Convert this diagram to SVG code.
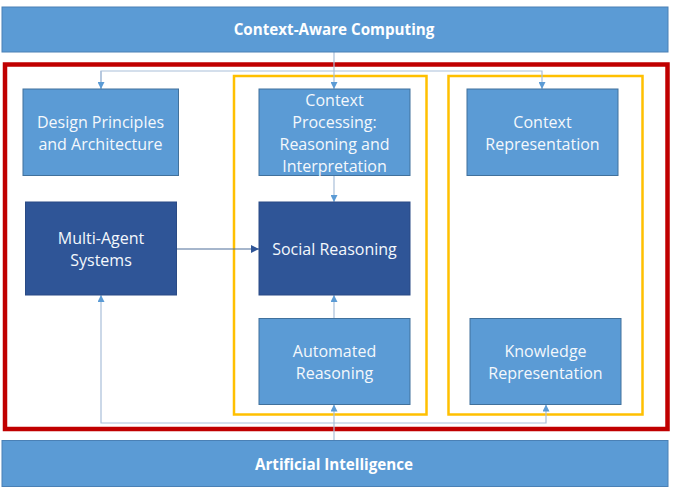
<svg xmlns="http://www.w3.org/2000/svg" width="676" height="489" viewBox="0 0 676 489">
<defs>
<style>
.bar{fill:#5B9BD5;stroke:#4A80B5;stroke-width:1}
.lt{fill:#5B9BD5;stroke:#41719C;stroke-width:1}
.dk{fill:#2F5597;stroke:#2A4B85;stroke-width:1}
.t{font-family:"Open Sans","Noto Sans",sans-serif;font-size:16px;fill:#F4F8FC;text-anchor:middle}
.tb{font-family:"Open Sans","Noto Sans",sans-serif;font-size:15.2px;font-weight:bold;fill:#FFFFFF;text-anchor:middle}
.c{fill:none;stroke:#A9BFD9;stroke-width:1.2}
.cd{fill:none;stroke:#4F6F9A;stroke-width:1.2}
.red{fill:none;stroke:#C00000;stroke-width:4.5}
.yel{fill:none;stroke:#FFC000;stroke-width:2.5}
</style>
<marker id="a" viewBox="0 0 10 10" refX="10" refY="5" markerWidth="7" markerHeight="7" markerUnits="userSpaceOnUse" orient="auto">
<path d="M0,0 L10,5 L0,10 z" fill="#5B9BD5"/>
</marker>
<marker id="ad" viewBox="0 0 10 10" refX="10" refY="5" markerWidth="8" markerHeight="8" markerUnits="userSpaceOnUse" orient="auto">
<path d="M0,0 L10,5 L0,10 z" fill="#2F5597"/>
</marker>
</defs>
<rect width="676" height="489" fill="#FFFFFF"/>

<g id="frames">
<rect class="red" x="5" y="64.5" width="662.5" height="364.5"/>
<rect class="yel" x="234" y="76" width="192.5" height="338.5"/>
<rect class="yel" x="448.5" y="76" width="194" height="338.5"/>
</g>

<g id="connectors">
<path class="c" d="M334,52 V89" marker-end="url(#a)"/>
<path class="c" d="M101,89 V71 H542 V89" marker-end="url(#a)"/>
<path class="c" d="M101,71 V89" marker-end="url(#a)"/>
<path class="c" d="M334,175.5 V202" marker-end="url(#a)"/>
<path class="cd" d="M176.5,249 H259" marker-end="url(#ad)"/>
<path class="c" d="M334,318.5 V295" marker-end="url(#a)"/>
<path class="c" d="M334,440.5 V404.5" marker-end="url(#a)"/>
<path class="c" d="M334,423 H101 V295" marker-end="url(#a)"/>
<path class="c" d="M334,423 H546 V404.5" marker-end="url(#a)"/>
</g>

<g id="context-aware-computing">
<rect class="bar" x="2" y="7" width="666" height="45"/>
<text class="tb" x="334" y="35">Context-Aware Computing</text>
</g>

<g id="artificial-intelligence">
<rect class="bar" x="2" y="440.5" width="666" height="46"/>
<text class="tb" x="334" y="470">Artificial Intelligence</text>
</g>

<g id="design-principles">
<rect class="lt" x="23" y="89" width="155.5" height="86.5"/>
<text class="t" x="100.5" y="127.5">Design Principles</text>
<text class="t" x="100.5" y="149.5">and Architecture</text>
</g>

<g id="multi-agent-systems">
<rect class="dk" x="25.5" y="202" width="151" height="93"/>
<text class="t" x="101" y="244">Multi-Agent</text>
<text class="t" x="101" y="266">Systems</text>
</g>

<g id="context-processing">
<rect class="lt" x="259" y="89" width="151" height="86.5"/>
<text class="t" x="334.5" y="105.5">Context</text>
<text class="t" x="334.5" y="127.5">Processing:</text>
<text class="t" x="334.5" y="149.5">Reasoning and</text>
<text class="t" x="334.5" y="171.5">Interpretation</text>
</g>

<g id="social-reasoning">
<rect class="dk" x="259" y="202" width="151" height="93"/>
<text class="t" x="334.5" y="255">Social Reasoning</text>
</g>

<g id="automated-reasoning">
<rect class="lt" x="259" y="318.5" width="151" height="86"/>
<text class="t" x="334.5" y="357">Automated</text>
<text class="t" x="334.5" y="379">Reasoning</text>
</g>

<g id="context-representation">
<rect class="lt" x="467" y="89" width="151" height="86.5"/>
<text class="t" x="542.5" y="127.5">Context</text>
<text class="t" x="542.5" y="149.5">Representation</text>
</g>

<g id="knowledge-representation">
<rect class="lt" x="470" y="318.5" width="151" height="86"/>
<text class="t" x="545.5" y="357">Knowledge</text>
<text class="t" x="545.5" y="379">Representation</text>
</g>
</svg>
